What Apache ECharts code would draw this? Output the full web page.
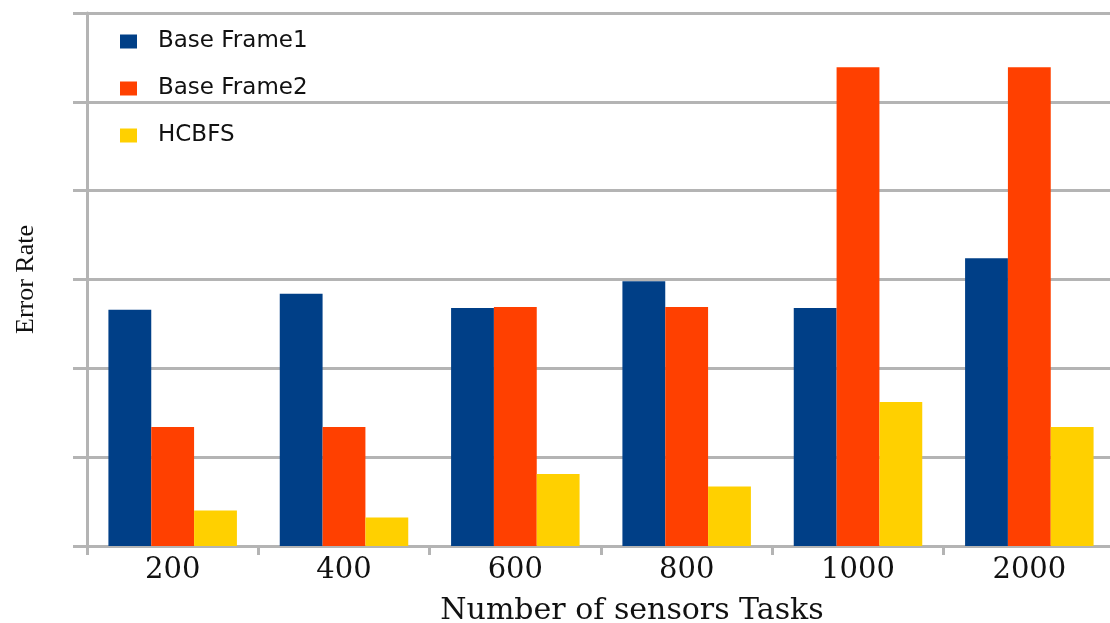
<!DOCTYPE html>
<html>
<head>
<meta charset="utf-8">
<script src="https://cdn.jsdelivr.net/npm/echarts@6/dist/echarts.min.js"></script>
<style>
  html, body { margin: 0; padding: 0; background: #fff; }
  #chart { width: 1110px; height: 623px; }
</style>
</head>
<body>
<div id="chart"></div>
<script>
// values (one grid step = 1 unit)
var categories = ["200", "400", "600", "800", "1000", "2000"];
var baseFrame1 = [2.66, 2.84, 2.68, 2.98, 2.68, 3.24];
var baseFrame2 = [1.34, 1.34, 2.69, 2.69, 5.39, 5.39];
var hcbfs = [0.40, 0.32, 0.81, 0.67, 1.62, 1.34];

var gridGray = "#b4b4b4";
var myChart = echarts.init(document.getElementById("chart"));

var option = {
    animation: false,
    color: ["#003f87", "#ff4000", "#ffd000"],
    grid: { left: 87, right: -5, top: 13, bottom: 77, containLabel: false, outerBoundsMode: "none" },
    legend: {
        orient: "vertical",
        left: 115,
        top: 25,
        itemWidth: 17,
        itemHeight: 14,
        itemGap: 24,
        icon: "rect",
        textStyle: {
            fontFamily: "DejaVu Sans",
            fontSize: 23,
            color: "#111",
            padding: [0, 0, 0, 16]
        },
        data: ["Base Frame1", "Base Frame2", "HCBFS"]
    },
    xAxis: {
        type: "category",
        data: categories,
        name: "Number of sensors Tasks",
        nameLocation: "middle",
        nameGap: 50,
        nameTextStyle: {
            fontFamily: "DejaVu Serif",
            fontSize: 30,
            color: "#111",
            padding: [0, 0, 0, 62]
        },
        axisLine: { lineStyle: { color: gridGray, width: 3 } },
        axisTick: { show: true, length: 9, alignWithLabel: false, lineStyle: { color: gridGray, width: 3 } },
        axisLabel: {
            fontFamily: "DejaVu Serif",
            fontSize: 29,
            color: "#111",
            margin: 10
        }
    },
    yAxis: {
        type: "value",
        min: 0,
        max: 6,
        interval: 1,
        name: "Error Rate",
        nameLocation: "middle",
        nameGap: 48,
        nameTextStyle: {
            fontFamily: "Liberation Serif",
            fontSize: 26,
            color: "#111"
        },
        axisLine: { show: true, lineStyle: { color: gridGray, width: 3 } },
        axisTick: { show: true, length: 14, lineStyle: { color: gridGray, width: 3 } },
        axisLabel: { show: false },
        splitLine: { show: true, lineStyle: { color: gridGray, width: 3 } }
    },
    series: [
        { name: "Base Frame1", type: "bar", data: baseFrame1, barGap: "0%", barCategoryGap: "25%" },
        { name: "Base Frame2", type: "bar", data: baseFrame2, barGap: "0%", barCategoryGap: "25%" },
        { name: "HCBFS", type: "bar", data: hcbfs, barGap: "0%", barCategoryGap: "25%" }
    ]
};
myChart.setOption(option);
</script>
</body>
</html>
